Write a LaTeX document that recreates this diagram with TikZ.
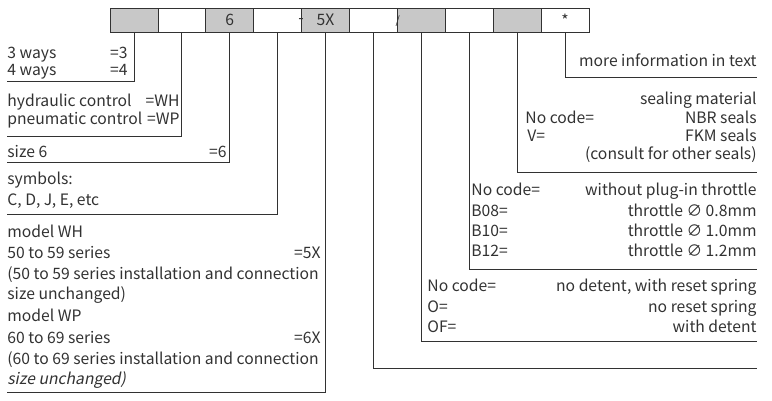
\documentclass[tikz,border=0pt]{standalone}
\usepackage{fontspec}
\setmainfont{Noto Sans CJK SC}
\newfontfamily\slantfont[FakeSlant=0.2]{Noto Sans CJK SC}
\definecolor{cellgray}{RGB}{200,200,200}
\definecolor{ink}{RGB}{50,50,50}
\tikzset{
  txt/.style={inner sep=0pt,text=ink,font=\fontsize{15.7}{18}\selectfont},
  cell/.style={draw=ink,minimum width=47.9pt,minimum height=24pt,inner sep=0pt,
    text=ink,font=\fontsize{15.7}{18}\selectfont},
}
\newcommand{\lefttext}[3]{
\node[txt,anchor=base west] (#1) at (7,#2) {#3};}
\newcommand{\righttext}[4]{
\node[txt,anchor=base east] (#1) at (#2,#3) {#4};}

\begin{document}
\begin{tikzpicture}[x=1pt,y=-1pt,line width=0.8pt]
\useasboundingbox (0,0) rectangle (772,400);
% code cells
\foreach \i/\f/\t in {1/cellgray/{},2/white/{},3/cellgray/6,4/white/{},5/cellgray/5X,
  6/white/{},7/cellgray/{},8/white/{},9/cellgray/{},10/white/*}{
	\node[cell,fill=\f] (b\i) at ({110+47.9*(\i-0.5)},20.3) {\t};
}
\node[txt] (dash) at ([yshift=-1pt]b5.west) {-};
\node[txt,font=\fontsize{11}{12}\selectfont] (slash) at ([yshift=-1pt]b6.east) {/};
% leader lines
\foreach \i/\y in {1/81,2/136,3/162,4/214,5/392}{
	\coordinate (e\i) at (7,\y);
	\draw[ink] (b\i.south) |- (e\i);
}
\foreach \i/\y in {6/368,7/341,8/269,9/172,10/77}{
	\coordinate (e\i) at (757,\y);
	\draw[ink] (b\i.south) |- (e\i);
}
% left side
\lefttext{w3}{58}{3 ways}
\lefttext{w4}{75}{4 ways}
\righttext{w3c}{128}{58}{=3}
\righttext{w4c}{128}{75}{=4}
\lefttext{hyd}{106}{hydraulic control}
\lefttext{pne}{124}{pneumatic control}
\righttext{hydc}{180}{106}{=WH}
\righttext{pnec}{180}{124}{=WP}
\lefttext{size}{157}{size 6}
\righttext{sizec}{227}{157}{=6}
\lefttext{sym}{184}{symbols:}
\lefttext{syml}{205}{C, D, J, E, etc}
\lefttext{mwh}{237}{model WH}
\lefttext{s50}{258}{50 to 59 series}
\righttext{s50c}{321}{258}{=5X}
\lefttext{n50}{279}{(50 to 59 series installation and connection}
\lefttext{u50}{299}{size unchanged)}
\lefttext{mwp}{321}{model WP}
\lefttext{s60}{343}{60 to 69 series}
\righttext{s60c}{321}{343}{=6X}
\lefttext{n60}{364}{(60 to 69 series installation and connection}
\lefttext{u60}{384}{\slantfont size unchanged)}
% right side
\righttext{more}{757}{66}{more information in text}
\righttext{seal}{757}{104}{sealing material}
\righttext{nbr}{757}{123}{NBR seals}
\righttext{fkm}{757}{141}{FKM seals}
\righttext{cons}{757}{159}{(consult for other seals)}
\node[txt,anchor=base west] (nbrc) at (525,123) {No code=};
\node[txt,anchor=base west] (fkmc) at (527,141) {V=};
\righttext{thr}{757}{195}{without plug-in throttle}
\righttext{b08}{757}{216}{throttle ∅ 0.8mm}
\righttext{b10}{757}{236}{throttle ∅ 1.0mm}
\righttext{b12}{757}{256}{throttle ∅ 1.2mm}
\node[txt,anchor=base west] (thrc) at (471,195) {No code=};
\node[txt,anchor=base west] (b08c) at (471,216) {B08=};
\node[txt,anchor=base west] (b10c) at (471,236) {B10=};
\node[txt,anchor=base west] (b12c) at (471,256) {B12=};
\righttext{det}{757}{291}{no detent, with reset spring}
\righttext{spr}{757}{312}{no reset spring}
\righttext{wdet}{757}{332}{with detent}
\node[txt,anchor=base west] (detc) at (427,291) {No code=};
\node[txt,anchor=base west] (sprc) at (427,312) {O=};
\node[txt,anchor=base west] (wdetc) at (427,332) {OF=};
\end{tikzpicture}
\end{document}
